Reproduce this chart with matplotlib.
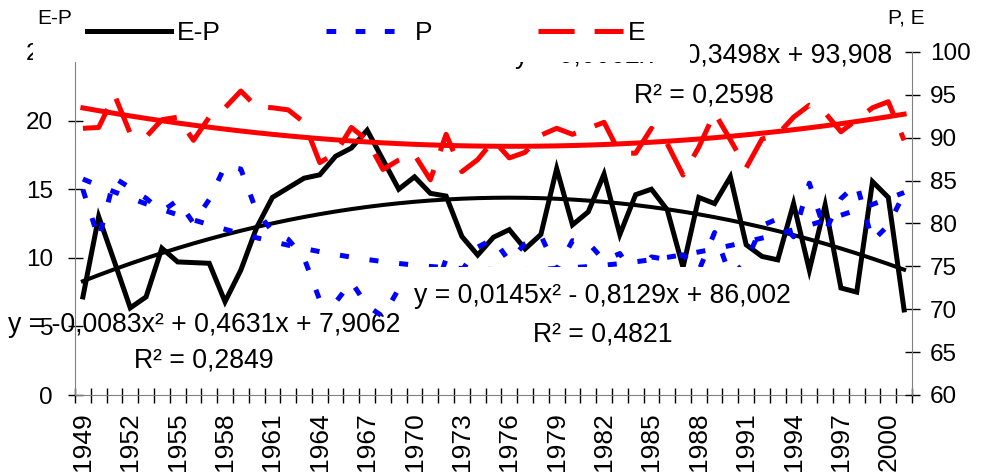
import numpy as np
import matplotlib.pyplot as plt
from matplotlib.lines import Line2D
from matplotlib.patches import Rectangle

plt.rcParams['font.family'] = ['Liberation Sans', 'DejaVu Sans']
plt.rcParams['lines.scale_dashes'] = False

# data, 1949-2001
years = np.arange(1949, 2002)
e_minus_p = [7.15, 13.0, 9.7, 6.35, 7.15, 10.7, 9.7, 9.65, 9.6, 6.8,
             9.1, 12.2, 14.4, 15.1, 15.8, 16.05, 17.4, 18.0, 19.3, 17.15,
             15.0, 15.9, 14.7, 14.5, 11.55, 10.2, 11.5, 12.05, 10.65, 11.7,
             16.5, 12.4, 13.35, 16.1, 11.7, 14.6, 15.0, 13.5, 9.3, 14.4,
             13.95, 15.9, 10.95, 10.1, 9.85, 13.95, 9.1, 13.85, 7.8, 7.5,
             15.55, 14.4, 6.2]
evap = [91.1, 91.2, 95.0, 90.5, 90.1, 92.1, 92.4, 89.7, 92.4, 93.5,
        95.45, 93.6, 93.5, 93.25, 91.8, 87.1, 88.2, 91.2, 89.7, 86.3,
        87.4, 88.0, 85.1, 90.4, 86.05, 87.45, 89.7, 87.65, 88.3, 90.3,
        91.1, 90.4, 91.1, 91.8, 88.2, 88.2, 91.1, 89.3, 85.65, 88.9,
        92.9, 89.75, 86.5, 89.85, 90.4, 92.4, 93.8, 92.9, 90.7, 92.1,
        93.5, 94.2, 89.7]
precip = [83.95, 78.2, 85.3, 84.15, 82.95, 81.4, 82.7, 80.05, 82.8, 86.7,
          86.35, 81.4, 79.1, 78.15, 76.0, 71.05, 70.8, 73.2, 70.4, 69.15,
          72.4, 72.1, 70.4, 75.9, 74.5, 77.25, 78.2, 75.6, 77.65, 78.6,
          74.6, 78.0, 77.75, 75.7, 76.5, 73.6, 76.1, 75.8, 76.35, 74.5,
          78.95, 73.85, 75.55, 79.75, 80.55, 78.45, 84.7, 79.05, 82.9, 84.6,
          77.95, 79.8, 83.5]

eq_ep = ["y = -0,0083x² + 0,4631x + 7,9062", "R² = 0,2849"]
eq_p = ["y = 0,0145x² - 0,8129x + 86,002", "R² = 0,4821"]
eq_e = ["y = 0,0062x² - 0,3498x + 93,908", "R² = 0,2598"]

idx = np.arange(1, len(years) + 1)


def trend(v):
    c = np.polyfit(idx, v, 2)
    return np.polyval(c, idx)


fig = plt.figure(figsize=(9.83, 4.76), dpi=100)
ax = fig.add_axes([75/983, 81/476, 837/983, 343/476])
ax2 = ax.twinx()

# left axis: E-P
ax.plot(idx, e_minus_p, color='black', lw=3.6, solid_joinstyle='miter')
ax.plot(idx, trend(e_minus_p), color='black', lw=2.9)
ax.set_ylim(0, 25)
ax.set_yticks(np.arange(0, 26, 5))
ax.set_xlim(0.5, len(years) + 0.5)

# right axis: P, E
ax2.plot(idx, precip, color='#0000FF', lw=3.6, ls=(0, (6.5, 15)))
ax2.plot(idx, trend(precip), color='#0000FF', lw=3.6, ls=(0, (6.5, 15)))
ax2.plot(idx, evap, color='#FF0000', lw=3.6, ls=(0, (26, 14.4)))
ax2.plot(idx, trend(evap), color='#FF0000', lw=3.6)
ax2.set_ylim(60, 100)
ax2.set_yticks(np.arange(60, 101, 5))

# x axis: labels every 3rd year, tick marks at category borders
ax.set_xticks(idx[::3])
ax.set_xticklabels([str(y) for y in years[::3]], rotation=90)
ax.set_xticks(np.arange(0.5, len(years) + 1), minor=True)
ax.tick_params(axis='x', which='major', length=0, pad=12.5, labelsize=19)
ax.tick_params(axis='x', which='minor', direction='inout', length=10.8,
               width=1, color='black')
ax.tick_params(axis='y', direction='inout', length=10.8, width=1,
               pad=10.4, labelsize=17.5)
ax2.tick_params(axis='y', direction='inout', length=10.8, width=1,
                pad=7.6, labelsize=17.5)

for s in ['top', 'right']:
    ax.spines[s].set_visible(False)
for s in ['top', 'left', 'bottom']:
    ax2.spines[s].set_visible(False)
ax.spines['left'].set_color('#808080')
ax.spines['bottom'].set_color('#808080')
ax2.spines['right'].set_color('#808080')

# trendline labels
eq_fs = 19.2
ax.text(0.154, 0.184, eq_ep[0], transform=ax.transAxes, ha='center',
        va='baseline', fontsize=eq_fs, zorder=1)
ax.text(0.154, 0.079, eq_ep[1], transform=ax.transAxes, ha='center',
        va='baseline', fontsize=eq_fs, zorder=1)

ax2.add_patch(Rectangle((0.400, 0.131), 0.460, 0.242, transform=ax2.transAxes,
                        facecolor='white', edgecolor='none', zorder=10))
ax2.text(0.630, 0.268, eq_p[0], transform=ax2.transAxes, ha='center',
         va='baseline', fontsize=eq_fs, zorder=11)
ax2.text(0.630, 0.155, eq_p[1], transform=ax2.transAxes, ha='center',
         va='baseline', fontsize=eq_fs, zorder=11)
ax2.text(0.7515, 0.968, eq_e[0], transform=ax2.transAxes, ha='center',
         va='baseline', fontsize=eq_fs, zorder=11)
ax2.text(0.7515, 0.854, eq_e[1], transform=ax2.transAxes, ha='center',
         va='baseline', fontsize=eq_fs, zorder=11)

# legend area (white box over the top of the plot)
fig.add_artist(Rectangle((33/983, 1 - 62/476), 657/983, 62/476,
                         transform=fig.transFigure, facecolor='white',
                         edgecolor='none', zorder=1))
handles = [Line2D([], [], color='black', lw=3.6),
           Line2D([], [], color='#0000FF', lw=3.6, ls=(0, (7, 14))),
           Line2D([], [], color='#FF0000', lw=3.6, ls=(0, (26, 14.4)))]
fig.legend(handles, ['E-P', 'P', 'E'], ncol=3, loc='center left',
           bbox_to_anchor=(87/983, 1 - 33/476), frameon=False, fontsize=19,
           handlelength=3.2, handletextpad=0.19, columnspacing=4.0,
           borderpad=0, borderaxespad=0)

fig.text(37/983, 1 - 18/476, 'E-P', fontsize=15, va='center', ha='left')
fig.text(925/983, 1 - 18/476, 'P, E', fontsize=15, va='center', ha='right')

fig.savefig('out.png', dpi=100)
